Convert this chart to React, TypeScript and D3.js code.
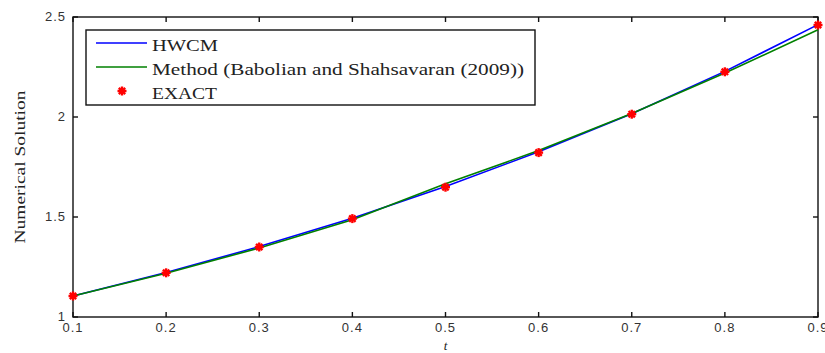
import React, { useEffect, useRef } from 'react';
import * as d3 from 'd3';

const tValues = [0.1, 0.2, 0.3, 0.4, 0.5, 0.6, 0.7, 0.8, 0.9];
const hwcm = [1.105, 1.222, 1.352, 1.494, 1.652, 1.826, 2.016, 2.228, 2.462];
const babolian = [1.105, 1.219, 1.345, 1.486, 1.666, 1.832, 2.017, 2.22, 2.436];
const exact = [1.105, 1.221, 1.35, 1.492, 1.649, 1.822, 2.014, 2.226, 2.46];
const xTicks = [0.1, 0.2, 0.3, 0.4, 0.5, 0.6, 0.7, 0.8, 0.9];
const yTicks = [1, 1.5, 2, 2.5];
const legendLabels = ['HWCM', 'Method (Babolian and Shahsavaran (2009))', 'EXACT'];

const W = 825;
const H = 353;

const App = () => {
  const svgRef = useRef<SVGSVGElement>(null);

  useEffect(() => {
    const svg = d3.select(svgRef.current);
    svg.selectAll('*').remove();

    const margin = { left: 73, right: 7, top: 17, bottom: 36 };
    const x = d3.scaleLinear().domain([0.1, 0.9]).range([margin.left, W - margin.right]);
    const y = d3.scaleLinear().domain([1, 2.5]).range([H - margin.bottom, margin.top]);

    const g = svg.append('g');

    // frame with inward ticks (matlab style)
    g.append('rect')
      .attr('x', x(0.1)).attr('y', y(2.5))
      .attr('width', x(0.9) - x(0.1)).attr('height', y(1) - y(2.5))
      .attr('fill', 'none').attr('stroke', '#111').attr('stroke-width', 1.4);

    const tk = 5;
    xTicks.forEach(v => {
      g.append('line').attr('x1', x(v)).attr('x2', x(v)).attr('y1', y(1)).attr('y2', y(1) - tk)
        .attr('stroke', '#111').attr('stroke-width', 1.4);
      g.append('line').attr('x1', x(v)).attr('x2', x(v)).attr('y1', y(2.5)).attr('y2', y(2.5) + tk)
        .attr('stroke', '#111').attr('stroke-width', 1.4);
      g.append('text').attr('x', x(v)).attr('y', y(1) + 15)
        .attr('text-anchor', 'middle').attr('font-family', 'Liberation Sans, Arial, sans-serif')
        .attr('font-size', 13).attr('letter-spacing', 1).attr('fill', '#333')
        .text(d3.format('.1f')(v));
    });
    yTicks.forEach(v => {
      g.append('line').attr('x1', x(0.1)).attr('x2', x(0.1) + tk).attr('y1', y(v)).attr('y2', y(v))
        .attr('stroke', '#111').attr('stroke-width', 1.4);
      g.append('line').attr('x1', x(0.9)).attr('x2', x(0.9) - tk).attr('y1', y(v)).attr('y2', y(v))
        .attr('stroke', '#111').attr('stroke-width', 1.4);
      g.append('text').attr('x', x(0.1) - 7).attr('y', y(v) + 4)
        .attr('text-anchor', 'end').attr('font-family', 'Liberation Sans, Arial, sans-serif')
        .attr('font-size', 13).attr('letter-spacing', 1).attr('fill', '#333')
        .text(String(v));
    });

    // axis labels
    g.append('text').attr('x', x(0.5)).attr('y', 350)
      .attr('text-anchor', 'middle').attr('font-family', 'Liberation Serif, serif')
      .attr('font-style', 'italic').attr('font-size', 13).attr('fill', '#222').text('t');
    g.append('text')
      .attr('transform', `translate(25,${(y(1) + y(2.5)) / 2}) rotate(-90)`)
      .attr('text-anchor', 'middle').attr('font-family', 'Liberation Serif, serif')
      .attr('font-size', 15).attr('fill', '#222')
      .attr('textLength', 153).attr('lengthAdjust', 'spacingAndGlyphs')
      .text('Numerical Solution');

    const line = (vals: number[]) =>
      d3.line<number>().x((_, i) => x(tValues[i])).y(d => y(d))(vals);

    g.append('path').attr('d', line(hwcm)).attr('fill', 'none')
      .attr('stroke', '#0000ff').attr('stroke-width', 1.6);
    g.append('path').attr('d', line(babolian)).attr('fill', 'none')
      .attr('stroke', '#008000').attr('stroke-width', 1.6);

    const star = (sel: d3.Selection<SVGGElement, unknown, null, undefined>, cx: number, cy: number, r: number) => {
      [0, 45, 90, 135].forEach(a => {
        const rad = (a * Math.PI) / 180;
        sel.append('line')
          .attr('x1', cx - r * Math.cos(rad)).attr('y1', cy - r * Math.sin(rad))
          .attr('x2', cx + r * Math.cos(rad)).attr('y2', cy + r * Math.sin(rad))
          .attr('stroke', '#ff0000').attr('stroke-width', 2.4);
      });
    };
    const stars = g.append('g');
    exact.forEach((v, i) => star(stars, x(tValues[i]), y(v), 4.5));

    // legend
    const lg = g.append('g');
    lg.append('rect').attr('x', 86).attr('y', 30).attr('width', 449).attr('height', 75)
      .attr('fill', '#fff').attr('stroke', '#111').attr('stroke-width', 1.4);
    const rows = [43, 67, 91];
    const widths = [66, 372, 65];
    lg.append('line').attr('x1', 96).attr('x2', 147).attr('y1', rows[0]).attr('y2', rows[0])
      .attr('stroke', '#0000ff').attr('stroke-width', 1.6);
    lg.append('line').attr('x1', 96).attr('x2', 147).attr('y1', rows[1]).attr('y2', rows[1])
      .attr('stroke', '#008000').attr('stroke-width', 1.6);
    star(lg, 122, rows[2], 4.5);
    legendLabels.forEach((s, i) => {
      lg.append('text').attr('x', 152).attr('y', rows[i] + 8)
        .attr('font-family', 'Liberation Serif, serif').attr('font-size', 16).attr('fill', '#222')
        .attr('textLength', widths[i]).attr('lengthAdjust', 'spacingAndGlyphs')
        .text(s);
    });
  }, []);

  return (
    <svg ref={svgRef} width={W} height={H}
      style={{ position: 'fixed', left: 0, top: 0, background: '#fff' }} />
  );
};

export default App;
